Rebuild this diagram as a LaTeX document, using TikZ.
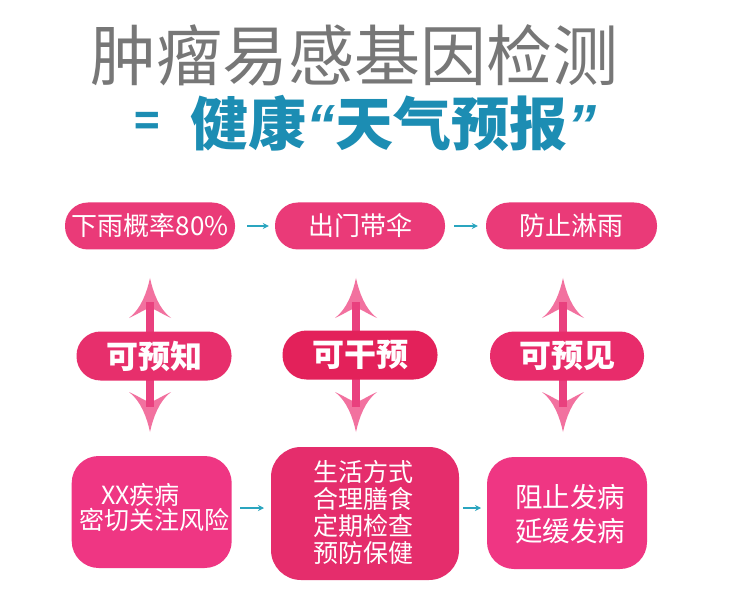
\documentclass[tikz,border=0pt]{standalone}
\usepackage{fontspec}
\newfontfamily\cjk{Noto Sans CJK SC}
\newfontfamily\latinq{Liberation Sans}
\usetikzlibrary{arrows.meta}
\definecolor{titlegray}{HTML}{777777}
\definecolor{titleblue}{HTML}{1C8DB3}
\definecolor{pillpink}{HTML}{EA3A78}
\definecolor{midA}{HTML}{E72F6C}
\definecolor{midB}{HTML}{E3215A}
\definecolor{midC}{HTML}{E82C6B}
\definecolor{boxA}{HTML}{EF3683}
\definecolor{boxB}{HTML}{E52D6C}
\definecolor{headc}{HTML}{F2719F}
\definecolor{shaftc}{HTML}{E9407E}
\definecolor{tealc}{HTML}{2AA5BF}
\begin{document}
\begin{tikzpicture}[x=1pt,y=-1pt,
  toppill/.style={fill=pillpink, rounded corners=23pt, minimum width=170pt, minimum height=47pt, inner sep=0pt, text=white, font=\cjk\fontsize{26}{26}\selectfont},
  midpill/.style={rounded corners=24pt, minimum width=155pt, minimum height=49pt, inner sep=0pt, text=white, font=\cjk\bfseries\fontsize{32}{32}\selectfont},
  bigbox/.style={inner sep=0pt},
  boxtext/.style={text=white, inner sep=0pt, align=center},
  smallarrow/.style={draw=tealc, line width=1.4pt, -{Stealth[length=6pt,width=6pt]}},
  shaft/.style={draw=shaftc, line width=8pt},
  pics/headup/.style={code={\fill[headc] (0,0) .. controls (-3,14) and (-9,31) .. (-21,40) .. controls (-12,36) and (-5,31) .. (0,30) .. controls (5,31) and (12,36) .. (21,40) .. controls (9,31) and (3,14) .. (0,0) -- cycle;}}
]
\useasboundingbox[fill=white] (0,0) rectangle (730,601);

% title
\node[text=titlegray, font=\cjk\fontsize{66}{66}\selectfont, inner sep=0pt] (title) at (354,55) {肿瘤易感基因检测};
\node[text=titleblue, font=\cjk\bfseries\fontsize{42}{42}\selectfont, inner sep=0pt] (eq) at (147,124) {=};
\node[text=titleblue, font=\cjk\bfseries\fontsize{58}{58}\selectfont, inner sep=0pt] (subtitle) at (393,123) {健康{\latinq\bfseries\itshape “}天气预报{\latinq\bfseries\itshape ”}};

% vertical double arrows (behind pills)
\foreach \n/\x in {1/150, 2/356, 3/563}{
  \pic at (\x,278) {headup};
  \pic[yscale=-1] at (\x,432) {headup};
  \coordinate (up\n) at (\x,302);
  \coordinate (dn\n) at (\x,407);
  \draw[shaft] (up\n) -- (dn\n);
}

% top pills
\node[toppill] (t1) at (150,226) {下雨概率80\%};
\node[toppill] (t2) at (360,226) {出门带伞};
\node[toppill, minimum width=171pt] (t3) at (571.5,226) {防止淋雨};
\draw[smallarrow, shorten <=12pt, shorten >=6pt] (t1) -- (t2);
\draw[smallarrow, shorten <=9pt, shorten >=8pt] (t2) -- (t3);

% middle pills
\node[midpill, fill=midA] (m1) at (154,356) {可预知};
\node[midpill, fill=midB] (m2) at (360,355) {可干预};
\node[midpill, fill=midC, minimum width=154pt] (m3) at (567,356) {可预见};

% bottom boxes
\node[bigbox, fill=boxA, rounded corners=27pt, minimum width=160pt, minimum height=112pt] (b1) at (151.7,512) {};
\node[bigbox, fill=boxB, rounded corners=30pt, minimum width=188pt, minimum height=133pt] (b2) at (365,513.5) {};
\node[bigbox, fill=boxA, rounded corners=27pt, minimum width=160pt, minimum height=112pt] (b3) at (567,513) {};

\node[boxtext, align=left, font=\cjk\fontsize{25}{25}\selectfont] (b1t) at (154.5,507.5) {\hspace*{0.87em}XX疾病\\密切关注风险};
\node[boxtext, font=\cjk\fontsize{25}{27}\selectfont] (b2t) at (363,512.5) {生活方式\\合理膳食\\定期检查\\预防保健};
\node[boxtext, font=\cjk\fontsize{27.5}{34}\selectfont] (b3t) at (570,514) {阻止发病\\延缓发病};

\coordinate (a1s) at (240,508);
\coordinate (a1e) at (264,508);
\coordinate (a2s) at (463,508);
\coordinate (a2e) at (481,508);
\draw[smallarrow] (a1s) -- (a1e);
\draw[smallarrow] (a2s) -- (a2e);
\end{tikzpicture}
\end{document}
